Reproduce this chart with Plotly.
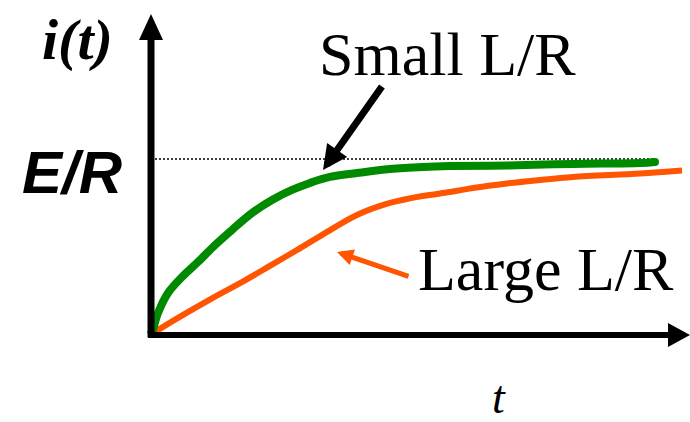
import plotly.graph_objects as go

# Data (t in arbitrary time units, i in units of E/R)
green_t = [0.0, 0.04, 0.16, 0.36, 0.64, 0.96, 1.30, 1.64, 2.04, 2.44, 2.84, 3.20, 3.60, 4.14, 4.80, 5.46, 6.00, 7.14, 8.46, 9.80, 10.10]
green_i = [0.0, 0.017, 0.125, 0.239, 0.330, 0.415, 0.511, 0.597, 0.693, 0.767, 0.824, 0.864, 0.898, 0.920, 0.943, 0.955, 0.960, 0.963, 0.972, 0.977, 0.983]
orange_t = [0.0, 0.56, 1.24, 1.90, 2.44, 2.94, 3.46, 4.14, 4.80, 5.46, 6.00, 6.46, 7.14, 7.80, 8.46, 9.80, 10.64]
orange_i = [0.0, 0.097, 0.208, 0.310, 0.400, 0.483, 0.572, 0.682, 0.750, 0.790, 0.812, 0.835, 0.861, 0.881, 0.898, 0.918, 0.935]
steady_level = 1.0   # E/R
t_end_dotted = 10.1

W, H = 690, 422
X_RANGE = [-3.0, 10.8]
Y_RANGE = [-0.494, 1.903]

GREEN = "#008A00"
ORANGE = "#FF5500"

fig = go.Figure()
fig.add_trace(go.Scatter(x=orange_t, y=orange_i, mode="lines",
                         line=dict(color=ORANGE, width=6, shape="spline", smoothing=1.0),
                         hoverinfo="skip"))
fig.add_trace(go.Scatter(x=green_t, y=green_i, mode="lines",
                         line=dict(color=GREEN, width=8, shape="spline", smoothing=1.0),
                         hoverinfo="skip"))
# rounded end cap of the green curve
fig.add_trace(go.Scatter(x=green_t[-1:], y=green_i[-1:], mode="markers",
                         marker=dict(color=GREEN, size=8, line=dict(width=0)),
                         hoverinfo="skip"))

shapes = []
# dotted steady state line
shapes.append(dict(type="line", xref="x", yref="y", x0=0.1, x1=t_end_dotted, y0=steady_level, y1=steady_level,
                   line=dict(color="black", width=1.5, dash="2px,2px"), layer="below"))
# y axis
shapes.append(dict(type="line", xref="x", yref="y", x0=0.02, x1=0.02, y0=-0.012, y1=1.69,
                   line=dict(color="black", width=7)))
shapes.append(dict(type="path", xref="x", yref="y",
                   path="M -0.22,1.676 L 0.26,1.676 L 0.02,1.824 Z",
                   fillcolor="black", line=dict(color="black", width=0)))
# x axis
shapes.append(dict(type="line", xref="x", yref="y", x0=-0.04, x1=10.4, y0=0.0, y1=0.0,
                   line=dict(color="black", width=6)))
shapes.append(dict(type="path", xref="x", yref="y",
                   path="M 10.36,0.068 L 10.36,-0.068 L 10.8,0 Z",
                   fillcolor="black", line=dict(color="black", width=0)))

def txt(px, py, text, family, size, weight="normal", style="normal"):
    return dict(x=px / W, y=1 - py / H, xref="paper", yref="paper", text=text, showarrow=False,
                xanchor="center", yanchor="middle",
                font=dict(family=family, size=size, color="black", weight=weight, style=style))

annotations = [
    txt(77, 39, "i(t)", "Liberation Serif", 58, "bold", "italic"),
    txt(72, 172, "E/R", "Liberation Sans", 60, "bold", "italic"),
    txt(447, 54, "Small L/R", "Liberation Serif", 62),
    txt(546, 269, "Large L/R", "Liberation Serif", 62),
    txt(499, 397, "t", "Liberation Serif", 46, "normal", "italic"),
    # arrows
    dict(x=3.46, y=0.9375, xref="x", yref="y", ax=60, ay=-85, text="", showarrow=True,
         arrowhead=2, arrowwidth=7, arrowsize=0.7, arrowcolor="black"),
    dict(x=3.74, y=0.472, xref="x", yref="y", ax=73, ay=25, text="", showarrow=True,
         arrowhead=2, arrowwidth=5, arrowsize=0.65, arrowcolor=ORANGE),
]

fig.update_layout(
    width=W, height=H,
    margin=dict(l=0, r=0, t=0, b=0),
    paper_bgcolor="white", plot_bgcolor="white",
    showlegend=False,
    xaxis=dict(range=X_RANGE, visible=False, fixedrange=True),
    yaxis=dict(range=Y_RANGE, visible=False, fixedrange=True),
    shapes=shapes,
    annotations=annotations,
)

fig.write_html("out.html", config={"displayModeBar": False},
               post_script="document.body.style.margin='0px';")
